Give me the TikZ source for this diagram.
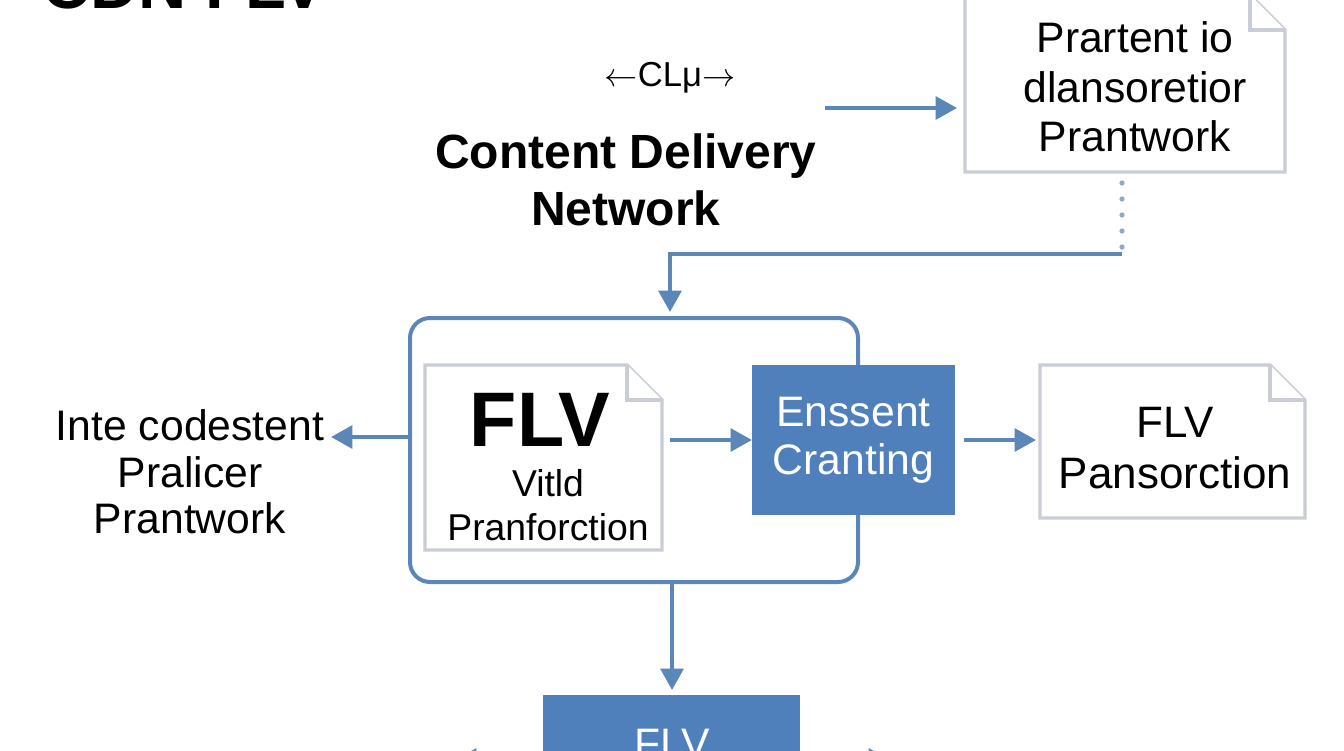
\documentclass[tikz,border=0pt]{standalone}
\usepackage{fontspec}
\setmainfont{Liberation Sans}
\usetikzlibrary{arrows.meta}
\definecolor{bl}{HTML}{4F80BC}
\definecolor{ar}{HTML}{5B86B8}
\definecolor{gr}{HTML}{C9CED6}
\tikzset{
 conn/.style={draw=ar,line width=3pt,-{Triangle[length=16pt,width=17pt]}},
 doc/.style={draw=gr,line width=2.5pt,fill=white},
 txt/.style={align=center,inner sep=0,text=black},
}
\newcommand{\docshape}[4]{% x1 y1 x2 y2
 \draw[doc] (#1,#2) -- (#3-35,#2) -- (#3,#2+35) -- (#3,#4) -- (#1,#4) -- cycle;
 \draw[doc] (#3-35,#2) -- (#3-35,#2+35) -- (#3,#2+35);}
\begin{document}
\begin{tikzpicture}[x=0.75pt,y=-0.75pt]
\useasboundingbox[fill=white] (0,0) rectangle (1344,750);
\node[txt,anchor=base west,font=\bfseries\fontsize{50}{52}\selectfont] (title) at (42,8) {CDN FLV};
\node[txt,font=\fontsize{26}{28}\selectfont] (clp) at (670,78) {$\leftarrow$CLμ$\rightarrow$};
\node[txt,font=\bfseries\fontsize{36}{43}\selectfont] (cdn) at (626,180) {Content Delivery\\Network};
% top right doc
\docshape{965}{-5}{1285}{172}
\node[txt,font=\fontsize{32}{37}\selectfont] (prt) at (1135,87) {Prartent io\\dlansoretior\\Prantwork};
\coordinate (ca) at (825,108);
\coordinate (cb) at (957,108);
\draw[conn] (ca) -- (cb);
\coordinate (d1) at (1122,183);
\coordinate (d2) at (1122,254);
\coordinate (d3) at (670,312);
\draw[gr!50!ar,line width=4pt,dash pattern=on 0pt off 12pt,line cap=round] (d1) -- (d2);
\draw[conn] (d2) -| (d3);
% main box
\draw[ar,line width=3pt,rounded corners=15pt] (410,318) rectangle (858,582);
\node (main) at (634,450) [minimum width=336pt,minimum height=198pt,inner sep=0] {};
\docshape{425}{365}{662}{550}
\node[txt,font=\bfseries\fontsize{58}{60}\selectfont] (flv1) at (540,420) {FLV};
\node[txt,font=\fontsize{28}{33}\selectfont] (vit) at (548,505) {Vitld\\Pranforction};
\node[fill=bl,minimum width=152pt,minimum height=112pt,inner sep=0] (ens) at (853.5,440) {};
\node[txt,text=white,font=\fontsize{32}{36}\selectfont] at (ens) {Enssent\\Cranting};
\coordinate (e1) at (670,440);
\draw[conn] (e1) -- (ens.west);
% right doc
\docshape{1040}{365}{1305}{518}
\node[txt,font=\fontsize{33}{38}\selectfont] (pans) at (1175,448) {FLV\\Pansorction};
\coordinate (r2) at (1036,440);
\draw[conn] (ens.east) ++(7pt,0) coordinate (r1) (r1) -- (r2);
% left
\node[txt,font=\fontsize{32}{35}\selectfont] (left) at (190,472) {Inte codestent\\Pralicer\\Prantwork};
\coordinate (l1) at (410,437);
\coordinate (l2) at (331,437);
\draw[conn] (l1) -- (l2);
% bottom
\node[fill=bl,minimum width=193pt,minimum height=60pt,inner sep=0,anchor=north] (bot) at (671.5,695) {};
\node[txt,text=white,font=\fontsize{32}{32}\selectfont,anchor=base] at (672,758) {FLV};
\coordinate (b1) at (672,584);
\coordinate (b2) at (672,690);
\draw[conn] (b1) -- (b2);
\coordinate (bl1) at (500,760);
\coordinate (bl2) at (455,760);
\draw[conn] (bl1) -- (bl2);
\coordinate (br1) at (845,760);
\coordinate (br2) at (890,760);
\draw[conn] (br1) -- (br2);
\end{tikzpicture}
\end{document}
